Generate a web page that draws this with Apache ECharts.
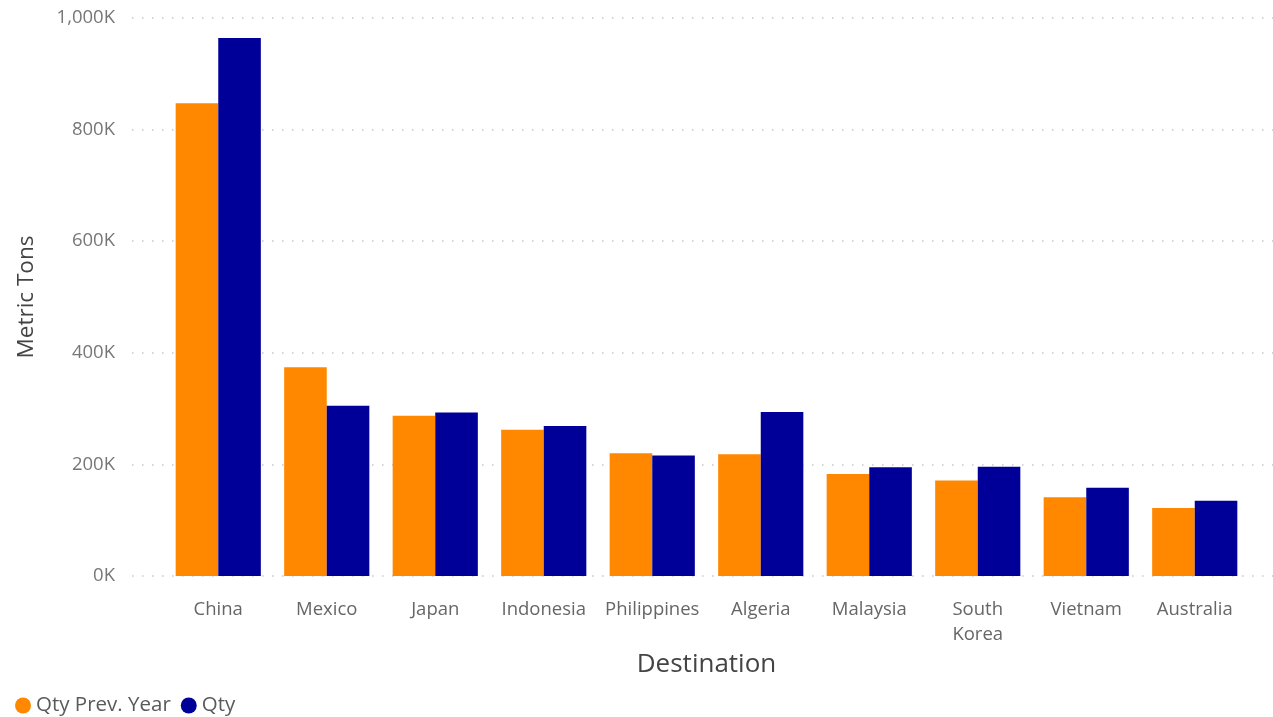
<!DOCTYPE html>
<html>
<head>
<meta charset="utf-8">
<script src="https://cdn.jsdelivr.net/npm/echarts@6/dist/echarts.min.js"></script>
<style>
  html, body { margin: 0; padding: 0; background: #fff; }
  #chart { width: 1273px; height: 717px; }
</style>
</head>
<body>
<div id="chart"></div>
<script>
// Export volumes by destination, metric tons
const destinations = ['China', 'Mexico', 'Japan', 'Indonesia', 'Philippines', 'Algeria', 'Malaysia', 'South Korea', 'Vietnam', 'Australia'];
const qtyPrevYear = [847000, 374000, 287000, 262000, 220000, 218000, 183000, 171000, 141000, 122000];
const qty = [964000, 305000, 293000, 269000, 216000, 294000, 195000, 196000, 158000, 135000];
const yTicks = { min: 0, max: 1000000, interval: 200000 };

const FONT = '"Segoe UI", "Open Sans", "Noto Sans", sans-serif';
const ORANGE = '#FF8800';
const NAVY = '#000099';

const chart = echarts.init(document.getElementById('chart'));

function fmtK(v) {
  const k = Math.round(v / 1000);
  return k.toLocaleString('en-US') + 'K';
}

chart.setOption({
  animation: false,
  textStyle: { fontFamily: FONT },
  legend: {
    left: 10,
    top: 690,
    itemGap: 10,
    itemWidth: 16,
    itemHeight: 16,
    icon: 'circle',
    textStyle: { fontFamily: FONT, fontSize: 20.5, color: '#5a5a5a' },
    data: ['Qty Prev. Year', 'Qty']
  },
  grid: [
    // full-width band carrying the dotted value gridlines
    { left: 132, right: 0, top: 18, bottom: 141 },
    // band holding the bars
    { left: 164, right: 24, top: 18, bottom: 141 }
  ],
  xAxis: [
    { type: 'value', gridIndex: 0, show: false, min: 0, max: 1 },
    {
      type: 'category',
      gridIndex: 1,
      data: destinations,
      axisLine: { show: false },
      axisTick: { show: false },
      axisLabel: {
        fontFamily: FONT,
        fontSize: 18.5,
        color: '#666',
        margin: 21,
        lineHeight: 25,
        interval: 0,
        formatter: v => v.replace(' ', '\n')
      },
      name: 'Destination',
      nameLocation: 'middle',
      nameGap: 74,
      nameTextStyle: { fontFamily: FONT, fontSize: 26, color: '#444' }
    }
  ],
  yAxis: [
    {
      type: 'value',
      gridIndex: 0,
      min: yTicks.min,
      max: yTicks.max,
      interval: yTicks.interval,
      axisLine: { show: false },
      axisTick: { show: false },
      axisLabel: { show: false },
      splitLine: { lineStyle: { color: '#c6c6c6', width: 1.5, type: [1.5, 8.5] } }
    },
    {
      type: 'value',
      gridIndex: 1,
      min: yTicks.min,
      max: yTicks.max,
      interval: yTicks.interval,
      axisLine: { show: false },
      axisTick: { show: false },
      splitLine: { show: false },
      axisLabel: {
        fontFamily: FONT,
        fontSize: 18.5,
        color: '#777',
        margin: 49,
        formatter: fmtK
      },
      name: 'Metric Tons',
      nameLocation: 'middle',
      nameGap: 126,
      nameRotate: 90,
      nameTextStyle: { fontFamily: FONT, fontSize: 22.5, color: '#444' }
    }
  ],
  series: [
    {
      name: 'Qty Prev. Year',
      type: 'bar',
      xAxisIndex: 1,
      yAxisIndex: 1,
      data: qtyPrevYear,
      itemStyle: { color: ORANGE },
      barGap: '0%',
      barCategoryGap: '21.5%'
    },
    {
      name: 'Qty',
      type: 'bar',
      xAxisIndex: 1,
      yAxisIndex: 1,
      data: qty,
      itemStyle: { color: NAVY },
      barGap: '0%',
      barCategoryGap: '21.5%'
    }
  ]
});
</script>
</body>
</html>
